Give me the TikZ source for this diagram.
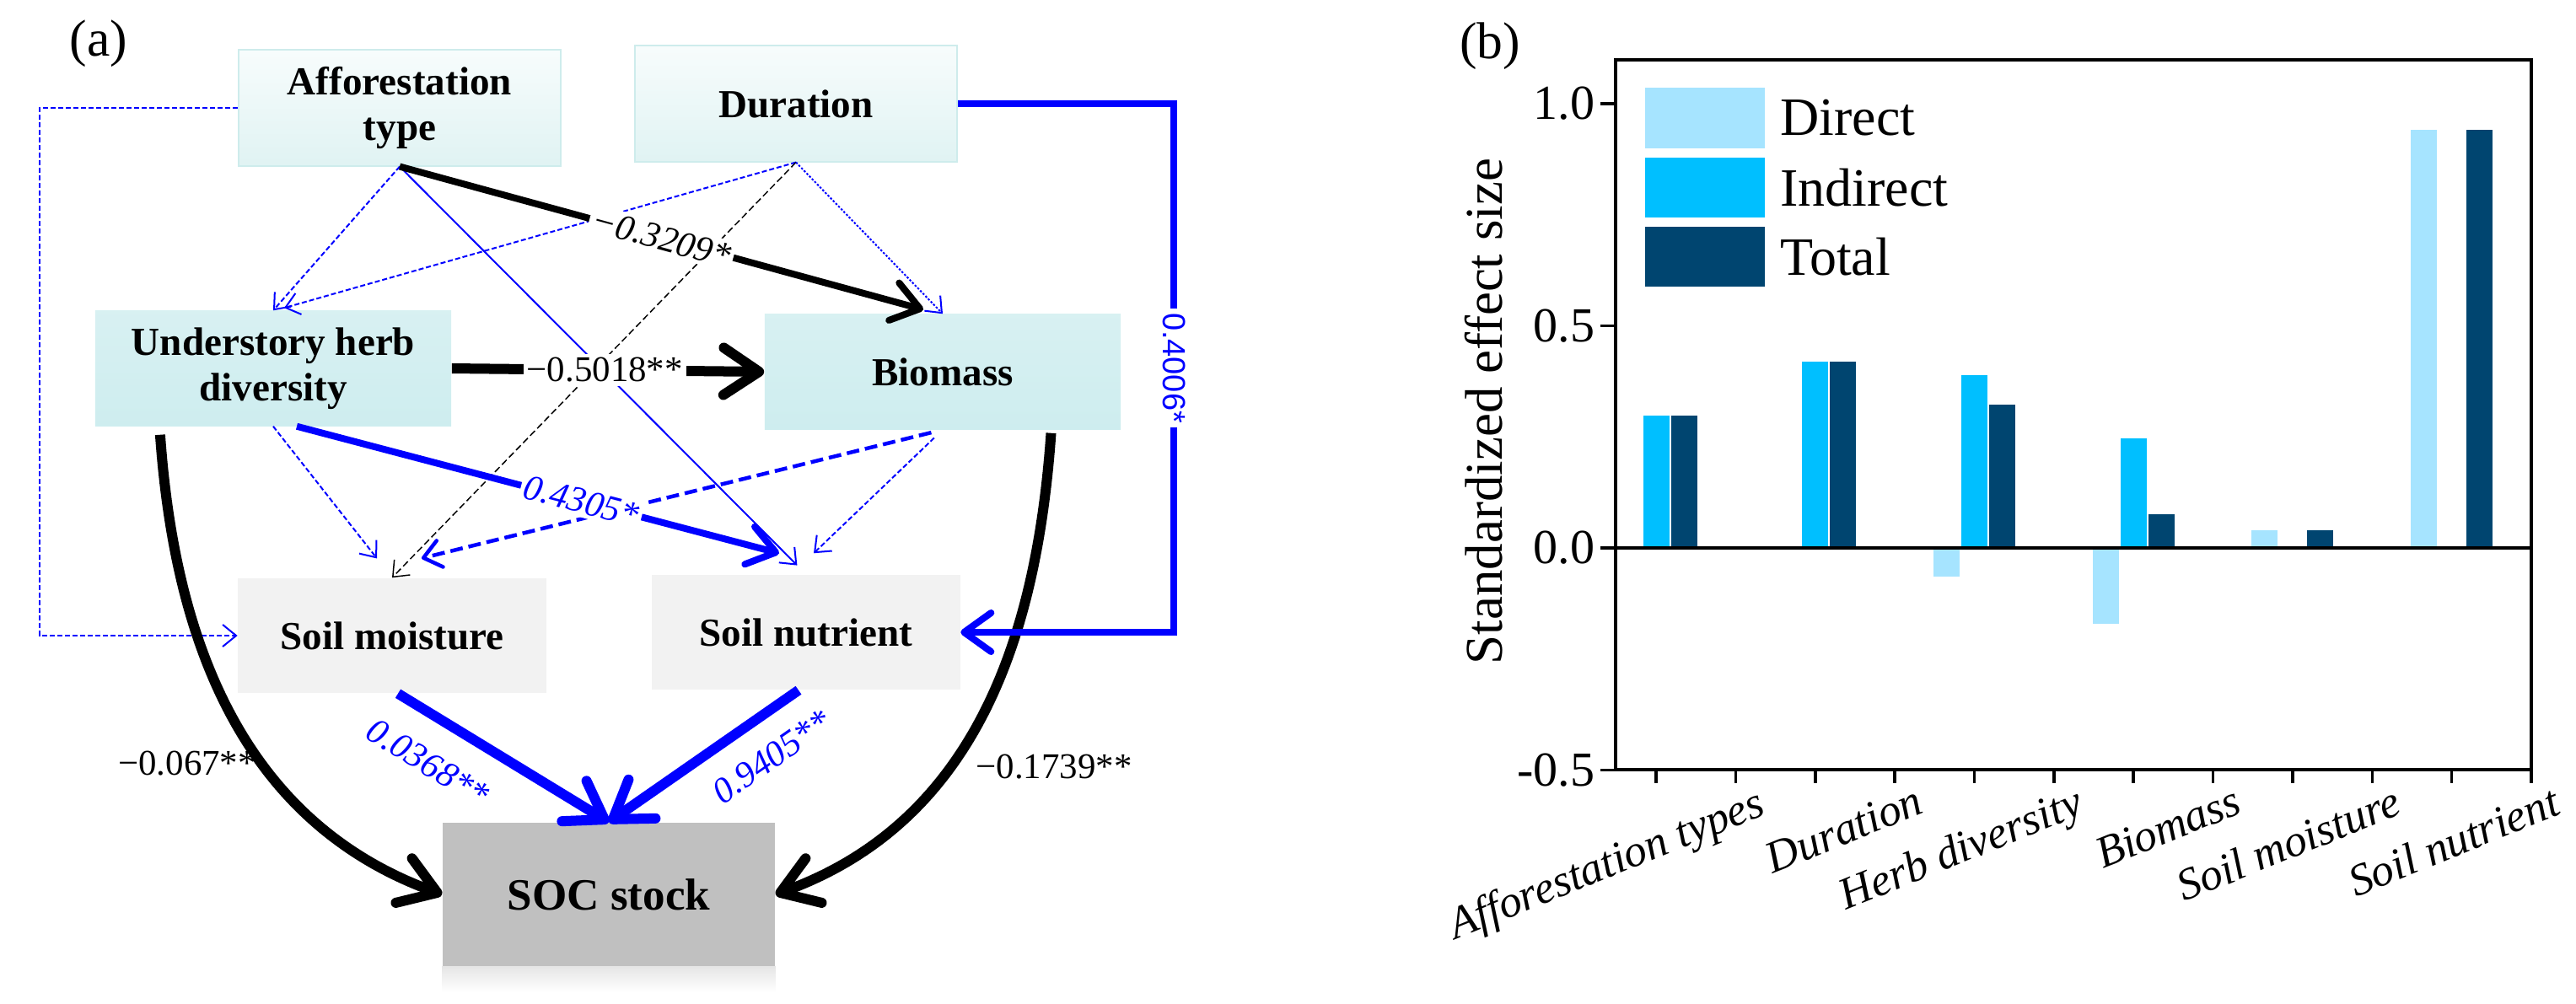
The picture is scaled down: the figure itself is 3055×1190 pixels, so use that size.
\documentclass[tikz,border=0pt]{standalone}
\usepackage{fontspec}
\setmainfont{Liberation Serif}
\newfontfamily\sansnum{Liberation Sans}
\usetikzlibrary{arrows.meta,positioning}

\definecolor{pathblue}{RGB}{0,0,255}
\definecolor{topfill}{RGB}{224,243,243}
\definecolor{topline}{RGB}{206,236,236}
\definecolor{midfill}{RGB}{206,237,239}
\definecolor{soilfill}{RGB}{242,242,242}
\definecolor{socfill}{RGB}{192,192,192}
\definecolor{directc}{RGB}{166,228,255}
\definecolor{indirectc}{RGB}{0,191,255}
\definecolor{totalc}{RGB}{0,69,112}

\begin{document}
\begin{tikzpicture}[
    x=0.01cm, y=-0.01cm,
    var/.style={rectangle, align=center, inner sep=0pt, font=\fontsize{13.4}{15.5}\selectfont\bfseries},
    exo/.style={var, draw=topline, line width=0.02cm, top color=topfill!25!white, bottom color=topfill, minimum width=3.82cm, minimum height=1.37cm},
    medi/.style={var, top color=midfill!80!white, bottom color=midfill, minimum width=4.22cm, minimum height=1.36cm},
    soil/.style={var, fill=soilfill, minimum width=3.65cm, minimum height=1.36cm},
    socbox/.style={rectangle, fill=socfill, minimum width=3.94cm, minimum height=1.70cm, font=\fontsize{15.1}{17}\selectfont\bfseries},
    weak/.style={pathblue, line width=0.02cm, -{Straight Barb[length=0.16cm, width=0.26cm]}},
    weakdash/.style={weak, dash pattern=on 0.06cm off 0.03cm},
    weakdot/.style={weak, dash pattern=on 0.025cm off 0.02cm},
    nsdash/.style={black, line width=0.015cm, dash pattern=on 0.08cm off 0.04cm, -{Straight Barb[length=0.16cm, width=0.26cm]}},
    middash/.style={pathblue, line width=0.045cm, dash pattern=on 0.15cm off 0.07cm, -{Straight Barb[round, length=0.2cm, width=0.32cm]}},
    strong/.style={line width=0.08cm, -{Straight Barb[round, length=0.32cm, width=0.46cm]}},
    heavy/.style={line width=0.12cm, -{Straight Barb[round, length=0.42cm, width=0.56cm]}},
    coef/.style={font=\fontsize{12.2}{14}\selectfont\itshape, inner sep=0.04cm, fill=white},
    coefup/.style={font=\fontsize{12.2}{14}\selectfont, inner sep=0.04cm},
    tag/.style={font=\fontsize{17.5}{19}\selectfont},
    ticklab/.style={font=\fontsize{16.5}{18}\selectfont, inner sep=0.05cm},
    legkey/.style={rectangle, minimum width=1.42cm, minimum height=0.71cm, inner sep=0pt},
    legtext/.style={font=\fontsize{18.2}{20}\selectfont, inner sep=0pt}
  ]
  \useasboundingbox (0,0) rectangle (3055,1190);

  \node[tag] (taga) at (117,52) {(a)};
  \node[exo] (aff) at (474,128) {Afforestation\\type};
  \node[exo] (dur) at (944,123) {Duration};
  \node[medi] (herb) at (324,437) {Understory herb\\diversity};
  \node[medi] (bio) at (1118,441) {Biomass};
  \node[soil] (moist) at (465,754) {Soil moisture};
  \node[soil] (nutr) at (956,750) {Soil nutrient};
  \node[socbox] (soc) at (722,1061) {SOC stock};
  \shade[top color=socfill!40!white, bottom color=white] (soc.south west) rectangle ([yshift=-0.3cm]soc.south east);

  \draw[weakdash] (aff.south) -- (herb.north);
  \draw[weak, shorten >=0.15cm] (aff.south) -- (nutr.north);
  \draw[weakdash] (aff.west) -- ++(-235,0) |- (moist.west);
  \draw[weakdash] (dur.south) -- ([shift={(13,-3)}]herb.north);
  \draw[nsdash] (dur.south) -- (moist.north);
  \draw[weakdot] (dur.south) -- (bio.north);
  \draw[weakdash, shorten >=0.29cm] (herb.south) -- (moist.north);
  \draw[middash, shorten <=0.14cm] (bio.south) -- ([shift={(35,-23)}]moist.north);
  \draw[weakdash, shorten <=0.14cm] (bio.south) -- ([shift={(9,-25)}]nutr.north);

  \draw[heavy, shorten <=0.1cm] ([xshift=0.77cm]herb.south west) to[out=-86, in=160] (soc.west);
  \draw[heavy, shorten <=0.04cm] ([xshift=-0.83cm]bio.south east) to[out=-94, in=20] (soc.east);
  \node[coefup] (l067) at (222,906) {−0.067**};
  \node[coefup] (l1739) at (1250,910) {−0.1739**};

  \draw[heavy, pathblue] ([xshift=0.07cm]moist.south) -- node[coef, sloped, pos=0.25, below=0.27cm, text=pathblue, fill=none] {0.0368**} (soc.north);
  \draw[heavy, pathblue] ([xshift=-0.09cm]nutr.south) -- node[coef, sloped, pos=0.26, below=0.22cm, text=pathblue, fill=none] {0.9405**} (soc.north);

  \draw[strong] (aff.south) -- node[coef, sloped] {−0.3209*} ([shift={(-23,-5)}]bio.north);
  \draw[heavy] (herb.east) -- node[coefup, fill=white, pos=0.49] {−0.5018**} (bio.west);
  \draw[strong, pathblue] ([xshift=0.28cm]herb.south) -- node[coef, sloped, pos=0.59, text=pathblue] {0.4305*} ([shift={(-32,-25)}]nutr.north);
  \draw[strong, pathblue] (dur.east) -| node[pos=0.75, rotate=-90, fill=white, inner sep=0.05cm, text=pathblue, font=\sansnum\fontsize{10.8}{12}\selectfont] {0.4006*} ([xshift=2.53cm]nutr.east) -- (nutr.east);

  \node[tag] (tagb) at (1767,55) {(b)};
  \foreach \g/\d/\i/\t in {0/0/0.298/0.298, 1/0/0.42/0.42, 2/-0.065/0.389/0.322, 3/-0.17/0.246/0.076, 4/0.04/0/0.04, 5/0.9405/0/0.9405} {
    \fill[directc] ({1964+188.7*\g-48.5},650) rectangle ++(31,{-527*\d});
    \fill[indirectc] ({1964+188.7*\g-15.5},650) rectangle ++(31,{-527*\i});
    \fill[totalc] ({1964+188.7*\g+17.5},650) rectangle ++(31,{-527*\t});
  }
  \draw[line width=0.04cm] (1916,71) rectangle (3002,913);
  \draw[line width=0.04cm] (1916,650) -- (3002,650);
  \foreach \v/\t in {1/1.0, 0.5/0.5, 0/0.0, -0.5/-0.5}
    \draw[line width=0.035cm] (1916,{650-527*\v}) -- ++(-18,0) node[left, ticklab] {\t};
  \foreach \k in {0,...,11}
    \draw[line width=0.035cm] ({1964+94.36*\k},913) -- ++(0,16);
  \foreach \g/\name in {0/Afforestation types, 1/Duration, 2/Herb diversity, 3/Biomass, 4/Soil moisture, 5/Soil nutrient}
    \node[rotate=22, anchor=north east, inner sep=0pt, font=\fontsize{15.1}{17}\selectfont\itshape] at ({1964+188.7*\g+118},930) {\name};
  \node[rotate=90, font=\fontsize{17.9}{20}\selectfont] (ylab) at (1760,488) {Standardized effect size};

  \node[legkey, fill=directc] (kdirect) at (2022,140) {};
  \node[legkey, fill=indirectc, below=0.1cm of kdirect] (kindirect) {};
  \node[legkey, fill=totalc, below=0.1cm of kindirect] (ktotal) {};
  \node[legtext, right=0.17cm of kdirect] (tdirect) {Direct};
  \node[legtext, right=0.17cm of kindirect] (tindirect) {Indirect};
  \node[legtext, right=0.17cm of ktotal] (ttotal) {Total};
\end{tikzpicture}
\end{document}
